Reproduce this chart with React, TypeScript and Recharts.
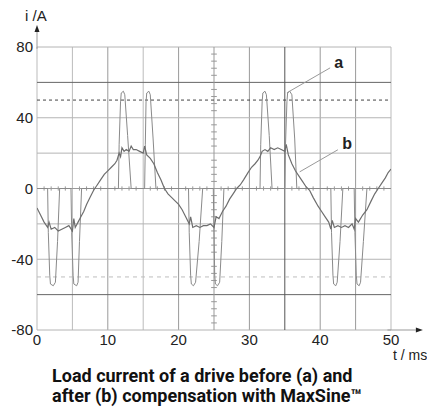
import React from 'react';
import { LineChart, Line, XAxis, YAxis, ReferenceLine, ReferenceDot } from 'recharts';

// ---- data ----
const xTicks = [0, 10, 20, 30, 40, 50];
const yTicks = [-80, -40, 0, 40, 80];
const gridX = [0, 5, 10, 15, 20, 30, 40, 45, 50];
const gridY = [-80, -40, -20, 20, 40, 80];
const heavyY = [-60, 60];
const heavyX = [35];
const centerTicksY = [-76, -72, -68, -64, -56, -52, -48, -44, -36, -32, -28, -24, -16, -12, -8, -4, 4, 8, 12, 16, 24, 28, 32, 36, 44, 48, 52, 56, 64, 68, 72, 76];
const zeroTicksX = [1, 2, 3, 4, 6, 7, 8, 9, 11, 12, 13, 14, 16, 17, 18, 19, 21, 22, 23, 24, 26, 27, 28, 29, 31, 32, 33, 34, 36, 37, 38, 39, 41, 42, 43, 44, 46, 47, 48, 49];

// curve a: before compensation (pulsed current)
const aTime = [
  0,
  1.5, 1.6, 1.8, 1.9, 2.3, 2.6, 2.9, 3.2,
  4.8, 4.9, 5.1, 5.2, 5.6, 5.8, 6.0, 6.3,
  11.5, 11.6, 11.8, 11.9, 12.2, 12.4, 12.8, 13.3,
  15.2, 15.3, 15.4, 15.5, 15.8, 16.0, 16.4, 16.8,
  21.4, 21.5, 21.7, 21.8, 22.1, 22.4, 22.9, 23.4,
  24.9, 25.0, 25.1, 25.2, 25.5, 25.8, 26.1, 26.4,
  31.5, 31.6, 31.8, 31.9, 32.2, 32.4, 32.8, 33.2,
  35.0, 35.1, 35.3, 35.4, 35.7, 36.0, 36.4, 36.7,
  41.5, 41.6, 41.8, 41.9, 42.2, 42.4, 42.8, 43.2,
  44.8, 44.9, 45.1, 45.2, 45.5, 45.7, 46.1, 46.6,
  50,
];
const aCurrent = [
  0,
  0, -25, -49, -54, -55, -53, -30, 0,
  0, -25, -49, -54, -55, -53, -30, 0,
  0, 25, 49, 54, 55, 53, 30, 0,
  0, 25, 49, 54, 55, 53, 28, 0,
  0, -25, -49, -54, -55, -53, -30, 0,
  0, -25, -49, -54, -55, -53, -30, 0,
  0, 25, 49, 54, 55, 53, 30, 0,
  0, 25, 49, 54, 55, 53, 28, 0,
  0, -25, -49, -54, -55, -53, -30, 0,
  0, -25, -49, -54, -55, -53, -30, 0,
  0,
];

// curve b: after compensation (near-sinusoidal, noisy)
const bTime = [
  0, 0.5, 1.0, 1.5, 1.7, 2.0, 2.5, 3.0, 3.5, 4.0, 4.5, 5.0, 5.2, 5.4, 5.8, 6.2, 6.6, 7.0, 7.5, 8.0,
  8.5, 9.0, 9.5, 10.0, 10.5, 11.0, 11.3, 11.6, 11.8, 12.0, 12.3, 12.6, 13.0, 13.3, 13.6, 14.0, 14.5, 15.0, 15.2, 15.5,
  16.0, 16.5, 17.0, 17.5, 18.0, 18.5, 19.0, 19.5, 20.0, 20.5, 21.0, 21.5, 21.7, 22.0, 22.5, 23.0, 23.5, 24.0, 24.5, 25.0,
  25.3, 25.7, 26.2, 26.7, 27.2, 27.7, 28.2, 28.7, 29.2, 29.8, 30.3, 30.8, 31.2, 31.5, 31.8, 32.2, 32.6, 33.0, 33.5, 34.0,
  34.5, 35.0, 35.2, 35.5, 36.0, 36.5, 37.0, 37.5, 38.0, 38.5, 39.0, 39.7, 40.2, 40.7, 41.2, 41.5, 41.7, 42.0, 42.5, 43.0,
  43.5, 44.0, 44.5, 44.8, 45.0, 45.4, 46.0, 46.6, 47.2, 47.7, 48.2, 48.7, 49.2, 49.6, 50.0,
];
const bCurrent = [
  -11, -15, -19, -22, -19, -23, -22, -24, -23, -22, -21, -24, -17, -22, -19, -16, -13, -9, -5, -1,
  2, 5, 8, 10, 12, 14, 16, 20, 18, 23, 21, 22, 21, 24, 22, 22, 21, 20, 24, 19,
  17, 14, 9, 5, 0, -3, -5, -7, -9, -12, -16, -20, -16, -22, -21, -22, -21, -21, -20, -22,
  -16, -17, -13, -10, -6, -3, 0, 2, 5, 9, 12, 14, 16, 18, 21, 22, 21, 23, 22, 23,
  22, 21, 25, 19, 14, 10, 7, 4, 1, -1, -5, -10, -13, -16, -19, -23, -18, -22, -21, -22,
  -21, -22, -20, -23, -17, -19, -15, -12, -7, -3, 0, 3, 6, 9, 11,
];

const seriesA = aTime.map((t, k) => ({ t, i: aCurrent[k] }));
const seriesB = bTime.map((t, k) => ({ t, i: bCurrent[k] }));

const ArrowLine = (p: any) => {
  const { x1, y1, x2, y2, stroke } = p;
  const dx = x2 - x1;
  const dy = y2 - y1;
  const len = Math.sqrt(dx * dx + dy * dy) || 1;
  const ux = dx / len;
  const uy = dy / len;
  const L = 7;
  const W = 2.5;
  const bx = x2 - ux * L;
  const by = y2 - uy * L;
  const pts = `${x2},${y2} ${bx - uy * W},${by + ux * W} ${bx + uy * W},${by - ux * W}`;
  return (
    <g>
      <line x1={x1} y1={y1} x2={bx} y2={by} stroke={stroke} strokeWidth={1} />
      <polygon points={pts} fill="#222" />
    </g>
  );
};

const tickStyle = { fontFamily: '"Liberation Sans", Arial, sans-serif', fontSize: 15, fill: '#222' };

export default function App() {
  return (
    <div style={{ position: 'absolute', left: 0, top: 0, width: 427, height: 408, background: '#fff', overflow: 'hidden' }}>
      <LineChart width={427} height={408} margin={{ top: 47, right: 36, bottom: 48, left: 0 }}>
        <XAxis
          dataKey="t"
          type="number"
          domain={[0, 50]}
          ticks={xTicks}
          allowDataOverflow
          axisLine={false}
          tickLine={false}
          tickSize={0}
          tickMargin={4}
          height={30}
          tick={tickStyle}
        />
        <YAxis
          type="number"
          domain={[-80, 80]}
          ticks={yTicks}
          allowDataOverflow
          axisLine={false}
          tickLine={false}
          tickSize={0}
          tickMargin={4}
          width={37}
          tick={tickStyle}
        />
        {gridX.map((x) => (
          <ReferenceLine key={'gx' + x} x={x} stroke={x === 5 || x === 15 || x === 50 || x === 0 ? '#bbb' : '#9a9a9a'} strokeWidth={1} />
        ))}
        {gridY.map((y) => (
          <ReferenceLine key={'gy' + y} y={y} stroke="#b4b4b4" strokeWidth={1} />
        ))}
        {heavyY.map((y) => (
          <ReferenceLine key={'hy' + y} y={y} stroke="#666" strokeWidth={1} />
        ))}
        {heavyX.map((x) => (
          <ReferenceLine key={'hx' + x} x={x} stroke="#555" strokeWidth={1} />
        ))}
        <ReferenceLine y={0} stroke="#9a9a9a" strokeWidth={1} />
        <ReferenceLine x={25} stroke="#999" strokeWidth={1} />
        {centerTicksY.map((v) => (
          <ReferenceLine key={'ct' + v} segment={[{ x: 24.6, y: v }, { x: 25.4, y: v }]} stroke="#999" strokeWidth={1} />
        ))}
        {zeroTicksX.map((v) => (
          <ReferenceLine key={'zt' + v} segment={[{ x: v, y: -1.2 }, { x: v, y: 1.2 }]} stroke="#999" strokeWidth={1} />
        ))}
        <ReferenceLine y={50} stroke="#444" strokeDasharray="3 3" strokeWidth={1} />
        <ReferenceLine y={-50} stroke="#bdbdbd" strokeDasharray="4 4" strokeWidth={1} />
        <ReferenceLine
          segment={[{ x: 0, y: 79 }, { x: 0, y: 92.5 }]}
          ifOverflow="visible"
          stroke="#999"
          shape={ArrowLine}
        />
        <ReferenceLine
          segment={[{ x: 49.5, y: -80 }, { x: 54.5, y: -80 }]}
          ifOverflow="visible"
          stroke="#999"
          shape={ArrowLine}
        />
        <Line data={seriesA} dataKey="i" type="linear" stroke="#8a8a8a" strokeWidth={1} dot={false} isAnimationActive={false} />
        <Line data={seriesB} dataKey="i" type="linear" stroke="#6e6e6e" strokeWidth={1.2} dot={false} isAnimationActive={false} />
        <ReferenceLine segment={[{ x: 41.4, y: 68.2 }, { x: 35.3, y: 54.1 }]} stroke="#999" strokeWidth={1} />
        <ReferenceLine segment={[{ x: 42.5, y: 21.9 }, { x: 37.1, y: 9.4 }]} stroke="#999" strokeWidth={1} />
        <ReferenceDot
          x={42.6}
          y={71.5}
          r={0}
          fill="none"
          stroke="none"
          label={{ value: 'a', position: 'center', fill: '#222', fontSize: 16, fontWeight: 'bold', fontFamily: '"Liberation Sans", Arial, sans-serif' }}
        />
        <ReferenceDot
          x={43.8}
          y={25.5}
          r={0}
          fill="none"
          stroke="none"
          label={{ value: 'b', position: 'center', fill: '#222', fontSize: 16, fontWeight: 'bold', fontFamily: '"Liberation Sans", Arial, sans-serif' }}
        />
      </LineChart>
      <div style={{ position: 'absolute', left: 25, top: 7, fontFamily: '"Liberation Sans", Arial, sans-serif', fontSize: 15, color: '#222', whiteSpace: 'nowrap' }}>
        i /A
      </div>
      <div style={{ position: 'absolute', left: 393, top: 347, fontFamily: '"Liberation Sans", Arial, sans-serif', fontSize: 14, color: '#222', whiteSpace: 'nowrap' }}>
        t / ms
      </div>
      <div style={{ position: 'absolute', left: 52, top: 366, fontFamily: 'Roboto, "Noto Sans", sans-serif', fontWeight: 700, fontSize: 18, lineHeight: '20px', color: '#111', whiteSpace: 'nowrap' }}>
        <div>Load current of a drive before (a) and</div>
        <div>after (b) compensation with MaxSine™</div>
      </div>
    </div>
  );
}
